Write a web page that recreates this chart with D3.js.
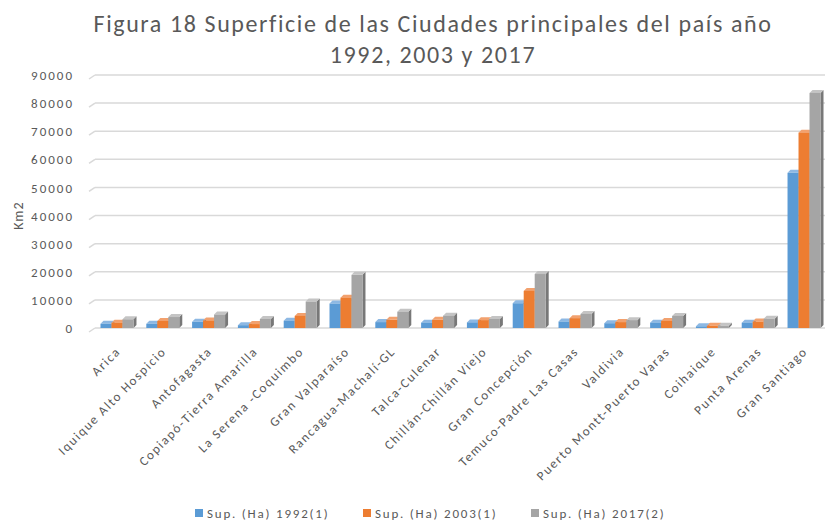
<!DOCTYPE html>
<html>
<head>
<meta charset="utf-8">
<script src="https://cdn.jsdelivr.net/npm/d3@7"></script>
<style>
  body { margin: 0; background: #fff; }
  text { font-family: Carlito, Calibri, "Liberation Sans", sans-serif; fill: #595959; }
</style>
</head>
<body>
<svg width="825" height="523"></svg>
<script>
var cities = ["Arica", "Iquique Alto Hospicio", "Antofagasta", "Copiapó-Tierra Amarilla",
  "La Serena -Coquimbo", "Gran Valparaíso", "Rancagua-Machalí-GL", "Talca-Culenar",
  "Chillán-Chillán Viejo", "Gran Concepción", "Temuco-Padre Las Casas", "Valdivia",
  "Puerto Montt-Puerto Varas", "Coihaique", "Punta Arenas", "Gran Santiago"];
var sup1992 = [1500, 1500, 2200, 1000, 2600, 8700, 2100, 1900, 2000, 8800, 2300, 1700, 1900, 600, 1900, 55200];
var sup2003 = [1900, 2500, 2700, 1400, 4300, 10800, 2900, 2900, 2800, 13200, 3500, 2100, 2500, 800, 2300, 69500];
var sup2017 = [3100, 3900, 4800, 3200, 9400, 18900, 5800, 4400, 3200, 19200, 5000, 2800, 4300, 800, 3300, 83600];
var seriesNames = ["Sup. (Ha) 1992(1)", "Sup. (Ha) 2003(1)", "Sup. (Ha) 2017(2)"];
var yTicks = [0, 10000, 20000, 30000, 40000, 50000, 60000, 70000, 80000, 90000];

var colors = ["#5B9BD5", "#ED7D31", "#A5A5A5"];
var sides = ["#41719C", "#AE5A21", "#787878"];
var tops = ["#8DB8E3", "#F2A16E", "#C4C4C4"];
var series = [sup1992, sup2003, sup2017];

var svg = d3.select("svg");
var plotLeft = 95, plotRight = 826, plotTop = 75, plotBottom = 328;
var depth = 3;

var x = d3.scaleBand().domain(cities).range([plotLeft, plotRight]).paddingInner(0.28).paddingOuter(0.12);
var x1 = d3.scaleBand().domain([0, 1, 2]).range([0, x.bandwidth()]);
var y = d3.scaleLinear().domain([0, 90000]).range([plotBottom, plotTop]);

// title
svg.append("text").attr("x", 433).attr("y", 32).attr("text-anchor", "middle")
  .style("font-size", "24px").style("letter-spacing", "1.6px")
  .text("Figura 18 Superficie de las Ciudades principales del país año");
svg.append("text").attr("x", 433).attr("y", 63).attr("text-anchor", "middle")
  .style("font-size", "24px").style("letter-spacing", "1.6px")
  .text("1992, 2003 y 2017");

// gridlines
var grid = svg.append("g");
yTicks.forEach(function(t) {
  grid.append("line").attr("x1", plotLeft).attr("x2", 825).attr("y1", y(t)).attr("y2", y(t))
    .attr("stroke", "#D9D9D9").attr("stroke-width", 1.5);
  grid.append("line").attr("x1", plotLeft - 6).attr("x2", plotLeft).attr("y1", y(t) + 4).attr("y2", y(t))
    .attr("stroke", "#D9D9D9").attr("stroke-width", 1.5);
});

// y axis labels
var yAxis = svg.append("g").attr("transform", "translate(74,0)")
  .call(d3.axisLeft(y).tickValues(yTicks).tickSize(0).tickFormat(d3.format("d")));
yAxis.select(".domain").remove();
yAxis.selectAll("text").attr("x", 0).attr("dy", "0.35em").style("font-size", "13px")
  .style("letter-spacing", "2px")
  .style("font-family", "Carlito, Calibri, 'Liberation Sans', sans-serif").attr("fill", "#595959");

svg.append("text").attr("transform", "translate(23," + y(40000) + ") rotate(-90)")
  .attr("text-anchor", "middle").style("font-size", "14px").style("letter-spacing", "1px").text("Km2");

// bars (front, top, side)
series.forEach(function(vals, s) {
  var g = svg.append("g");
  cities.forEach(function(c, i) {
    var bx = x(c) + x1(s), bw = x1.bandwidth(), by = y(vals[i]);
    g.append("path").attr("d", "M" + (bx + bw) + "," + by + "l" + depth + "," + (-depth) +
      "V" + (plotBottom - depth) + "l" + (-depth) + "," + depth + "Z").attr("fill", sides[s]);
    g.append("path").attr("d", "M" + bx + "," + by + "l" + depth + "," + (-depth) +
      "h" + bw + "l" + (-depth) + "," + depth + "Z").attr("fill", tops[s]);
    g.append("rect").attr("x", bx).attr("y", by).attr("width", bw).attr("height", plotBottom - by)
      .attr("fill", colors[s]);
  });
});

// x labels
svg.append("g").selectAll("text").data(cities).enter().append("text")
  .attr("transform", function(d) {
    return "translate(" + (x(d) + x.bandwidth() / 2 + 1) + ",349) rotate(-45)";
  })
  .attr("text-anchor", "end").attr("dy", "0.35em").style("font-size", "13px")
  .style("letter-spacing", "1.6px")
  .text(function(d) { return d; });

// legend
var legendX = [195, 363, 531];
var legend = svg.append("g");
seriesNames.forEach(function(n, s) {
  legend.append("rect").attr("x", legendX[s]).attr("y", 509).attr("width", 8).attr("height", 8)
    .attr("fill", colors[s]);
  legend.append("text").attr("x", legendX[s] + 12).attr("y", 513).attr("dy", "0.35em")
    .style("font-size", "13px").style("letter-spacing", "1.8px").text(n);
});
</script>
</body>
</html>
